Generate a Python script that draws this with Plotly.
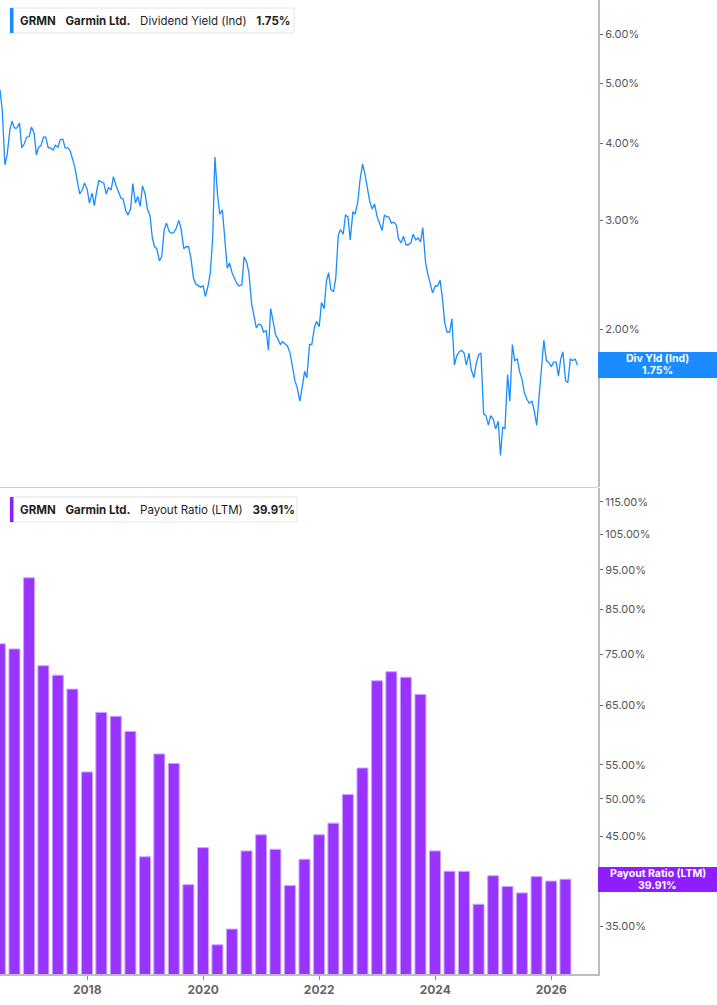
import math
import pandas as pd
import plotly.graph_objects as go

# ---------------- data ----------------
# Dividend yield (indicated), %, read semi-monthly from 2016-07-01
div_yield = [
    4.88, 4.53, 3.69, 3.83, 4.20, 4.34, 4.23, 4.23, 4.31, 3.93,
    3.99, 4.09, 4.10, 4.25, 4.15, 3.83, 3.94, 3.96, 4.09, 4.09,
    3.93, 3.93, 3.90, 3.97, 3.94, 4.05, 4.06, 3.93, 3.93, 3.89,
    3.77, 3.66, 3.46, 3.31, 3.36, 3.45, 3.37, 3.20, 3.32, 3.17,
    3.34, 3.48, 3.46, 3.45, 3.31, 3.39, 3.36, 3.53, 3.42, 3.34,
    3.26, 3.25, 3.11, 3.06, 3.13, 3.44, 3.20, 3.28, 3.16, 3.41,
    3.31, 3.13, 3.05, 2.81, 2.72, 2.70, 2.58, 2.62, 2.90, 2.97,
    2.88, 2.86, 2.87, 2.91, 3.00, 2.91, 2.70, 2.72, 2.72, 2.62,
    2.42, 2.37, 2.35, 2.34, 2.35, 2.26, 2.35, 2.47, 2.81, 3.80,
    3.29, 3.07, 3.12, 2.83, 2.51, 2.56, 2.47, 2.42, 2.37, 2.35,
    2.36, 2.62, 2.57, 2.47, 2.20, 2.11, 2.01, 2.04, 2.03, 1.98,
    1.99, 1.85, 2.16, 2.07, 1.96, 1.93, 1.89, 1.91, 1.89, 1.88,
    1.83, 1.74, 1.65, 1.61, 1.53, 1.61, 1.71, 1.67, 1.89, 1.89,
    2.01, 2.06, 2.02, 2.21, 2.16, 2.39, 2.47, 2.32, 2.30, 2.42,
    2.84, 2.90, 2.85, 3.06, 3.04, 2.79, 3.10, 3.07, 3.22, 3.49,
    3.70, 3.57, 3.39, 3.22, 3.13, 3.19, 3.04, 2.97, 2.89, 3.06,
    3.04, 3.04, 2.97, 2.98, 2.95, 2.80, 2.76, 2.83, 2.74, 2.74,
    2.76, 2.85, 2.79, 2.81, 2.77, 2.92, 2.57, 2.46, 2.37, 2.29,
    2.35, 2.35, 2.40, 2.25, 2.05, 1.98, 1.98, 2.08, 1.75, 1.81,
    1.84, 1.85, 1.83, 1.75, 1.83, 1.72, 1.67, 1.76, 1.82, 1.83,
    1.46, 1.45, 1.40, 1.45, 1.43, 1.38, 1.42, 1.25, 1.39, 1.38,
    1.69, 1.53, 1.89, 1.78, 1.79, 1.71, 1.66, 1.58, 1.54, 1.52,
    1.53, 1.48, 1.40, 1.54, 1.78, 1.92, 1.78, 1.77, 1.74, 1.77,
    1.77, 1.68, 1.79, 1.84, 1.65, 1.64, 1.79, 1.78, 1.79, 1.75,
]
yield_dates = pd.date_range(start="2016-07-01", periods=len(div_yield), freq="SMS")

# Payout ratio (LTM), %, quarterly
payout_dates = [f"{y}-{md}" for y in range(2016, 2027)
                for md in ("03-31", "06-30", "09-30", "12-31")]
payout_dates = payout_dates[payout_dates.index("2016-06-30"):payout_dates.index("2026-03-31") + 1]
payout = [
    77.2, 76.1, 92.9, 72.6, 70.7, 68.0, 53.9, 63.7, 63.0, 60.4,
    42.5, 56.7, 55.2, 39.3, 43.6, 33.2, 34.7, 43.2, 45.2, 43.4,
    39.2, 42.2, 45.2, 46.7, 50.6, 54.5, 69.6, 71.4, 70.3, 67.0,
    43.2, 40.8, 40.8, 37.2, 40.3, 39.1, 38.4, 40.2, 39.7, 39.91,
]

x_ticks = ["2018-01-01", "2020-01-01", "2022-01-01", "2024-01-01", "2026-01-01"]
x_labels = ["2018", "2020", "2022", "2024", "2026"]
yield_ticks = [2, 3, 4, 5, 6]
# the 40.00% tick sits behind the last-value tag in the reference
payout_ticks = [35, 45, 50, 55, 65, 75, 85, 95, 105, 115]

last_yield = 1.75
last_payout = 39.91

# ---------------- styling ----------------
W, H = 717, 1005
ML, MR, MT, MB = 0, 119, 0, 31
PW = W - ML - MR
PH = H - MT - MB

BLUE = "#1A8CFF"
PURPLE = "#9933FF"
PURPLE_DARK = "#8E1EFF"
FONT = "Inter"


def px_x(px):
    return (px - ML) / PW


def px_y(py):
    return (PH - (py - MT)) / PH


fig = go.Figure()
fig.add_trace(go.Scatter(
    x=yield_dates, y=div_yield, mode="lines",
    line=dict(color=BLUE, width=1.3), xaxis="x", yaxis="y", hoverinfo="skip"))
fig.add_trace(go.Bar(
    x=payout_dates, y=payout, width=69 * 24 * 3600 * 1000,
    marker=dict(color=PURPLE, line=dict(color="#CDA3FF", width=1)),
    xaxis="x", yaxis="y2", hoverinfo="skip"))

axis_common = dict(
    type="log", side="right", anchor="x", showgrid=False, zeroline=False,
    showline=True, linecolor="#BDBDBD", linewidth=2, ticks="outside",
    ticklen=3, tickcolor="#666", tickfont=dict(family=FONT, size=11, color="#555"),
)

fig.update_layout(
    width=W, height=H, autosize=False,
    margin=dict(l=ML, r=MR, t=MT, b=MB, pad=0),
    paper_bgcolor="white", plot_bgcolor="white",
    showlegend=False,
    font=dict(family=FONT),
    xaxis=dict(
        type="date", domain=[0, 1], anchor="y2",
        range=["2016-07-01", "2026-10-22"],
        tickvals=x_ticks, ticktext=[f"<b>{t}</b>" for t in x_labels],
        ticks="outside", ticklen=4, tickcolor="#888",
        tickfont=dict(family=FONT, size=12, color="#666"),
        showline=True, linecolor="#BDBDBD", linewidth=2,
        showgrid=False, zeroline=False,
    ),
    yaxis=dict(
        domain=[0.5, 1], range=[0.04598, 0.8336],
        tickvals=yield_ticks, ticktext=[f"{v:.2f}%" for v in yield_ticks],
        **axis_common,
    ),
    yaxis2=dict(
        domain=[0, 0.499], range=[1.48563, 2.0774],
        tickvals=payout_ticks, ticktext=[f"{v:.2f}%" for v in payout_ticks],
        **axis_common,
    ),
)

shapes = []
annotations = []

# separator between panels
shapes.append(dict(type="line", xref="paper", yref="paper",
                   x0=0, x1=1, y0=px_y(487.5), y1=px_y(487.5),
                   line=dict(color="#D0D0D0", width=1), layer="above"))


def legend_box(top, bottom, right, color, label, value):
    shapes.append(dict(type="rect", xref="paper", yref="paper",
                       x0=px_x(10), x1=px_x(right), y0=px_y(bottom), y1=px_y(top),
                       fillcolor="white", line=dict(color="#E4E4E4", width=1),
                       layer="above"))
    shapes.append(dict(type="rect", xref="paper", yref="paper",
                       x0=px_x(10), x1=px_x(13.5), y0=px_y(bottom), y1=px_y(top),
                       fillcolor=color, line=dict(width=0), layer="above"))
    sp = "\u00a0\u00a0\u00a0"
    annotations.append(dict(
        xref="paper", yref="paper", x=px_x(20), y=px_y((top + bottom) / 2),
        xanchor="left", yanchor="middle", showarrow=False,
        borderpad=0, borderwidth=0,
        text=f"<b>GRMN</b>{sp}<b>Garmin Ltd.</b>{sp}{label}{sp}<b>{value}</b>",
        font=dict(family=FONT, size=11.5, color="#1F1F1F")))


legend_box(8, 33, 294, BLUE, "Dividend Yield (Ind)", f"{last_yield:.2f}%")
legend_box(497, 522, 297, PURPLE_DARK, "Payout Ratio (LTM)", f"{last_payout:.2f}%")


def value_tag(top, bottom, color, line1, line2):
    shapes.append(dict(type="rect", xref="paper", yref="paper",
                       x0=1, x1=W / PW, y0=px_y(bottom), y1=px_y(top),
                       fillcolor=color, line=dict(width=0), layer="above"))
    cx = px_x((PW + W) / 2)
    for txt, py in ((line1, top + 6.5), (line2, top + 18.5)):
        annotations.append(dict(
            xref="paper", yref="paper", x=cx, y=px_y(py),
            xanchor="center", yanchor="middle", showarrow=False,
            borderpad=0,
            text=f"<b>{txt}</b>", font=dict(family=FONT, size=10.5, color="white")))


value_tag(352, 378, BLUE, "Div Yld (Ind)", f"{last_yield:.2f}%")
value_tag(867, 892, PURPLE_DARK, "Payout Ratio (LTM)", f"{last_payout:.2f}%")

fig.update_layout(shapes=shapes, annotations=annotations)

fig.write_html("out.html")
